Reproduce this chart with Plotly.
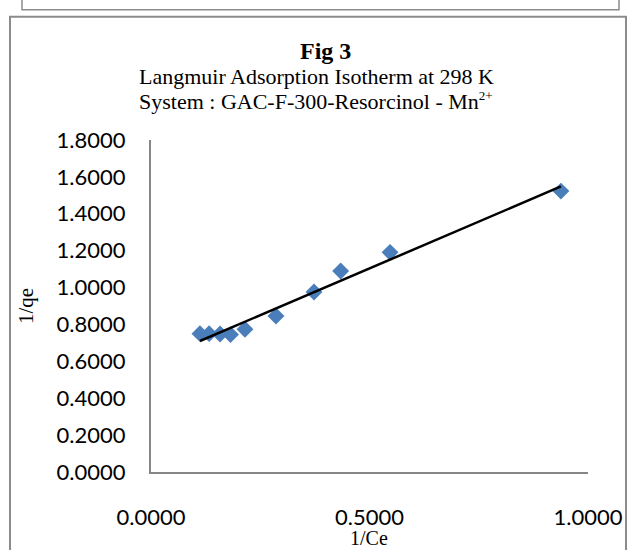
import numpy as np
import plotly.graph_objects as go

# Data
inv_ce = [0.112, 0.133, 0.158, 0.182, 0.215, 0.286, 0.373, 0.434, 0.547, 0.938]
inv_qe = [0.750, 0.750, 0.748, 0.745, 0.774, 0.846, 0.976, 1.090, 1.191, 1.523]
y_ticks = [0.0, 0.2, 0.4, 0.6, 0.8, 1.0, 1.2, 1.4, 1.6, 1.8]
x_ticks = [0.0, 0.5, 1.0]

title_main = "Fig 3"
title_sub1 = "Langmuir Adsorption Isotherm at 298 K"
title_sub2 = "System : GAC-F-300-Resorcinol - Mn<sup><span style='font-size:13px'>2+</span></sup>"
x_title = "1/Ce"
y_title = "1/qe"

# Linear trendline (least squares)
slope, intercept = np.polyfit(inv_ce, inv_qe, 1)
x_fit = [min(inv_ce), max(inv_ce)]
y_fit = [slope * v + intercept for v in x_fit]

W, H = 628, 550
L, R, T, B = 151, 40, 139.5, 78
pw, ph = W - L - R, H - T - B

def px(xp):
    return (xp - L) / pw

def py(yp):
    return (H - B - yp) / ph

fig = go.Figure()
fig.add_trace(go.Scatter(
    x=inv_ce, y=inv_qe, mode="markers",
    marker=dict(symbol="diamond", size=13, color="#4A7EBB",
                line=dict(width=0)),
    cliponaxis=False, showlegend=False))
fig.add_trace(go.Scatter(
    x=x_fit, y=y_fit, mode="lines",
    line=dict(color="black", width=2.5),
    cliponaxis=False, showlegend=False))

axis_color = "#868686"
fig.update_layout(
    width=W, height=H,
    margin=dict(l=L, r=R, t=T, b=B, pad=0, autoexpand=False),
    paper_bgcolor="white", plot_bgcolor="white",
    font=dict(family="Lato", size=22, color="black"),
    xaxis=dict(range=[0, 1], tickvals=x_ticks,
               ticktext=[f"{v:.4f}" for v in x_ticks],
               showgrid=False, zeroline=False, showline=True,
               linecolor=axis_color, linewidth=2, ticks="",
               ticklabelstandoff=25, automargin=False),
    yaxis=dict(range=[0, 1.8], tickvals=y_ticks,
               ticktext=[f"{v:.4f}" for v in y_ticks],
               showgrid=False, zeroline=False, showline=True,
               linecolor=axis_color, linewidth=2, ticks="",
               ticklabelstandoff=19, automargin=False,
               title=dict(text=y_title, standoff=17,
                          font=dict(family="Liberation Serif", size=21))),
    annotations=[
        dict(text="<b>" + title_main + "</b>", xref="paper", yref="paper",
             x=px(325), y=py(50), showarrow=False, yanchor="middle",
             font=dict(family="Liberation Serif", size=24)),
        dict(text=title_sub1, xref="paper", yref="paper",
             x=px(316), y=py(76), showarrow=False, yanchor="middle",
             font=dict(family="Liberation Serif", size=22)),
        dict(text=title_sub2, xref="paper", yref="paper",
             x=px(316), y=py(100), showarrow=False, yanchor="middle",
             font=dict(family="Liberation Serif", size=22)),
        dict(text=x_title, xref="paper", yref="paper",
             x=px(369), y=py(538), showarrow=False, yanchor="middle",
             font=dict(family="Liberation Serif", size=20)),
    ],
    shapes=[
        dict(type="rect", xref="paper", yref="paper",
             x0=px(22), x1=px(619), y0=py(9), y1=py(-10),
             line=dict(color="#8c8c8c", width=1.5)),
        dict(type="rect", xref="paper", yref="paper",
             x0=px(10), x1=px(626), y0=py(570), y1=py(16),
             line=dict(color="#8c8c8c", width=2)),
    ],
)

fig.write_html("out.html")
